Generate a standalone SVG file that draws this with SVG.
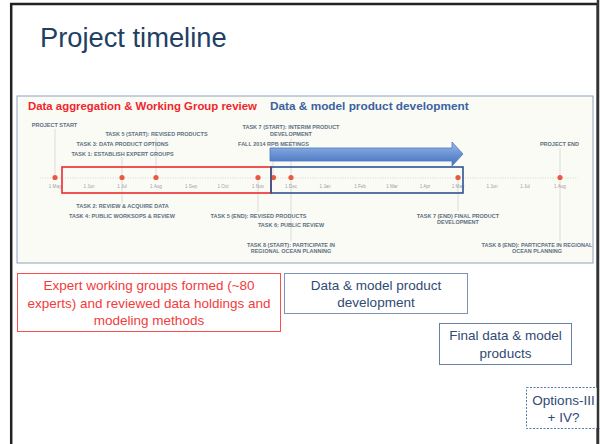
<svg xmlns="http://www.w3.org/2000/svg" width="600" height="444" viewBox="0 0 600 444">
<defs>
<linearGradient id="ag" x1="0" y1="0" x2="0" y2="1">
<stop offset="0" stop-color="#9dbbe6"/>
<stop offset="0.5" stop-color="#6b93d3"/>
<stop offset="1" stop-color="#4472c0"/>
</linearGradient>
<style>
.t{font-family:"Liberation Sans",Arial,sans-serif}
.lab{font-family:"Liberation Sans",Arial,sans-serif;font-size:5.5px;font-weight:bold;fill:#5d6f82;text-anchor:middle}
.mon{font-family:"Liberation Sans",Arial,sans-serif;font-size:4.6px;fill:#a0a0a0;text-anchor:middle}
.vl{stroke:#cfcfcf;stroke-width:0.7}
.dot{fill:#e95a43}
.box{font-family:"Liberation Sans",Arial,sans-serif;font-size:13.5px;text-anchor:middle}
</style>
</defs>
<rect x="0" y="0" width="600" height="444" fill="#ffffff"/>
<rect x="11.2" y="4" width="586.5" height="460" fill="#ffffff" stroke="#222222" stroke-width="2.5"/>
<text class="t" x="40" y="46.5" font-size="27.3" fill="#213f63">Project timeline</text>

<g id="panel">
<rect x="17" y="96" width="576" height="167" fill="#fbfbf5" stroke="#8ea3bd" stroke-width="1"/>
<text class="t" x="28" y="110" font-size="11.4" font-weight="bold" fill="#f0262c">Data aggregation &amp; Working Group review</text>
<text class="t" x="270" y="110" font-size="11.8" font-weight="bold" fill="#3a62a0">Data &amp; model product development</text>
</g>

<g id="connectors">
<line x1="40" y1="178" x2="578" y2="178" stroke="#c8c8c8" stroke-width="0.7" stroke-dasharray="1 1.5"/>
<line class="vl" x1="55" y1="129" x2="55" y2="178"/>
<line class="vl" x1="122" y1="157" x2="122" y2="203"/>
<line class="vl" x1="156" y1="138" x2="156" y2="178"/>
<line class="vl" x1="273" y1="147" x2="273" y2="178"/>
<line class="vl" x1="291" y1="138" x2="291" y2="241"/>
<line class="vl" x1="258" y1="178" x2="258" y2="212"/>
<line class="vl" x1="458" y1="178" x2="458" y2="211"/>
<line class="vl" x1="560" y1="148" x2="560" y2="241"/>
</g>

<g id="arrow">
<path d="M270,148 L452,148 L452,142 L463,154 L452,166 L452,161 L270,161 Z" fill="url(#ag)" stroke="#4a78c0" stroke-width="0.8"/>
</g>

<g id="months">
<text class="mon" x="55" y="187.5">1 May</text>
<text class="mon" x="89" y="187.5">1 Jun</text>
<text class="mon" x="122" y="187.5">1 Jul</text>
<text class="mon" x="156" y="187.5">1 Aug</text>
<text class="mon" x="191" y="187.5">1 Sep</text>
<text class="mon" x="223" y="187.5">1 Oct</text>
<text class="mon" x="258" y="187.5">1 Nov</text>
<text class="mon" x="291" y="187.5">1 Dec</text>
<text class="mon" x="325" y="187.5">1 Jan</text>
<text class="mon" x="360" y="187.5">1 Feb</text>
<text class="mon" x="392" y="187.5">1 Mar</text>
<text class="mon" x="425" y="187.5">1 Apr</text>
<text class="mon" x="458" y="187.5">1 May</text>
<text class="mon" x="492" y="187.5">1 Jun</text>
<text class="mon" x="525" y="187.5">1 Jul</text>
<text class="mon" x="560" y="187.5">1 Aug</text>
</g>

<g id="dots">
<circle class="dot" cx="55" cy="177.5" r="2.6"/>
<circle class="dot" cx="122" cy="177.5" r="2.6"/>
<circle class="dot" cx="156" cy="177.5" r="2.6"/>
<circle class="dot" cx="258" cy="177.5" r="2.6"/>
<circle class="dot" cx="273.5" cy="177.5" r="2.6"/>
<circle class="dot" cx="291" cy="177.5" r="2.6"/>
<circle class="dot" cx="458" cy="177.5" r="2.6"/>
<circle class="dot" cx="560" cy="177.5" r="2.6"/>
</g>

<g id="labels">
<text class="lab" x="54.5" y="126.5">PROJECT START</text>
<text class="lab" x="156.5" y="136">TASK 5 (START): REVISED PRODUCTS</text>
<text class="lab" x="122.5" y="146">TASK 3: DATA PRODUCT OPTIONS</text>
<text class="lab" x="122.5" y="155.5">TASK 1: ESTABLISH EXPERT GROUPS</text>
<text class="lab" x="291" y="128.7">TASK 7 (START): INTERIM PRODUCT</text>
<text class="lab" x="291" y="135.5">DEVELOPMENT</text>
<text class="lab" x="273.5" y="145.7">FALL 2014 RPB MEETINGS</text>
<text class="lab" x="559.5" y="146">PROJECT END</text>
<text class="lab" x="122.5" y="208.3">TASK 2: REVIEW &amp; ACQUIRE DATA</text>
<text class="lab" x="122" y="218">TASK 4: PUBLIC WORKSOPS &amp; REVIEW</text>
<text class="lab" x="258.5" y="218">TASK 5 (END): REVISED PRODUCTS</text>
<text class="lab" x="291" y="227.3">TASK 6: PUBLIC REVIEW</text>
<text class="lab" x="291" y="246.7">TASK 8 (START): PARTICIPATE IN</text>
<text class="lab" x="291" y="252.7">REGIONAL OCEAN PLANNING</text>
<text class="lab" x="458" y="218">TASK 7 (END) FINAL PRODUCT</text>
<text class="lab" x="458" y="224">DEVELOPMENT</text>
<text class="lab" x="537" y="246.7">TASK 8 (END): PARTICPATE IN REGIONAL</text>
<text class="lab" x="537" y="252.7">OCEAN PLANNING</text>
</g>

<g id="phase-red">
<rect x="62" y="167" width="209" height="26" fill="none" stroke="#ee2a2e" stroke-width="1.6"/>
</g>
<g id="phase-blue">
<rect x="271" y="167" width="192" height="26" fill="none" stroke="#2e5493" stroke-width="1.6"/>
</g>

<g id="box-expert">
<rect x="17.5" y="273.5" width="263" height="58" fill="#ffffff" stroke="#ff4d4d" stroke-width="1"/>
<text class="box" x="149" y="290" fill="#f23b3b">Expert working groups formed (~80</text>
<text class="box" x="149" y="307.5" fill="#f23b3b">experts) and reviewed data holdings and</text>
<text class="box" x="149" y="325" fill="#f23b3b">modeling methods</text>
</g>

<g id="box-dev">
<rect x="284.5" y="273.5" width="183" height="40" fill="#ffffff" stroke="#7d93b3" stroke-width="1"/>
<text class="box" x="376" y="290" fill="#2f4a74">Data &amp; model product</text>
<text class="box" x="376" y="307" fill="#2f4a74">development</text>
</g>

<g id="box-final">
<rect x="439.5" y="323.5" width="132" height="41" fill="#ffffff" stroke="#6880a6" stroke-width="1"/>
<text class="box" x="505.5" y="340" fill="#2f4a74">Final data &amp; model</text>
<text class="box" x="505.5" y="357.5" fill="#2f4a74">products</text>
</g>

<g id="box-options">
<rect x="526.5" y="387.5" width="80" height="41" fill="#ffffff" stroke="#5a79aa" stroke-width="1" stroke-dasharray="2 1.5"/>
<text class="box" x="563.5" y="405" fill="#2f4a74">Options-III</text>
<text class="box" x="563.5" y="422" fill="#2f4a74">+ IV?</text>
</g>
<line x1="598" y1="0" x2="598" y2="444" stroke="#333333" stroke-width="2.5"/>
</svg>
